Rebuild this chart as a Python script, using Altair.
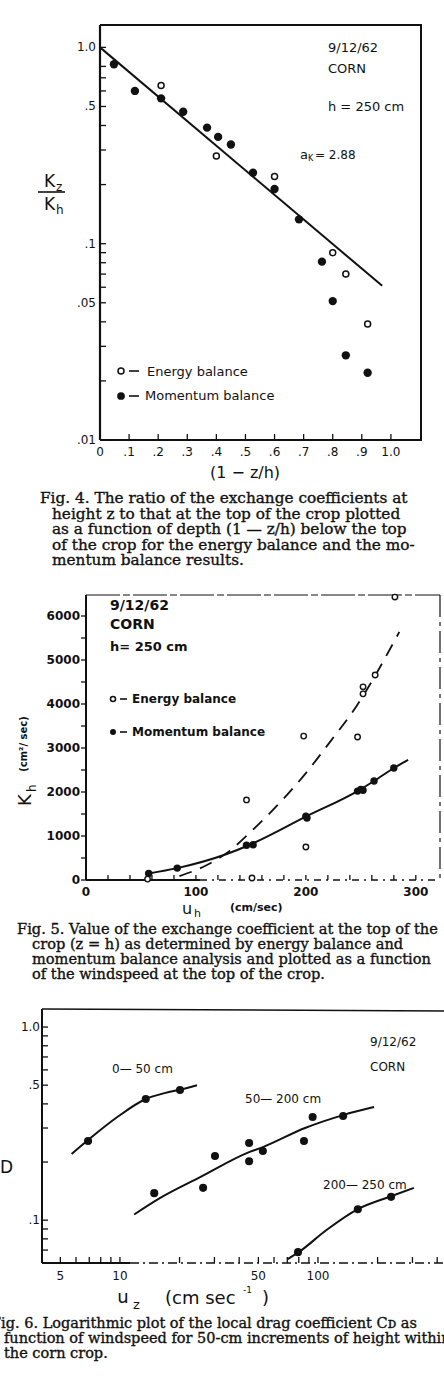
import altair as alt
import pandas as pd

INK = "#111111"
SANS = "DejaVu Sans"
SERIF = "DejaVu Serif"

# ---------------- Fig. 4: K_z / K_h against depth (1 - z/h) ----------------
f4_energy_depth = [0.21, 0.40, 0.60, 0.80, 0.845, 0.92]
f4_energy_ratio = [0.64, 0.28, 0.22, 0.090, 0.070, 0.039]
f4_momentum_depth = [0.048, 0.12, 0.21, 0.286, 0.368, 0.406, 0.45, 0.526,
                     0.60, 0.684, 0.763, 0.80, 0.845, 0.92]
f4_momentum_ratio = [0.82, 0.60, 0.55, 0.47, 0.39, 0.35, 0.32, 0.23,
                     0.19, 0.133, 0.081, 0.051, 0.027, 0.022]
f4_fit_depth = [0.0, 0.97]
f4_fit_ratio = [1.0, 0.061]
f4_y_ticks = [1.0, 0.8, 0.7, 0.6, 0.5, 0.4, 0.3, 0.2,
              0.1, 0.09, 0.08, 0.07, 0.06, 0.05, 0.04, 0.03, 0.02, 0.01]
f4_y_label_values = [1.0, 0.5, 0.1, 0.05, 0.01]
f4_y_labels = ["1.0", ".5", ".1", ".05", ".01"]
f4_x_ticks = [0.0, 0.1, 0.2, 0.3, 0.4, 0.5, 0.6, 0.7, 0.8, 0.9, 1.0]
f4_x_labels = ["0", ".1", ".2", ".3", ".4", ".5", ".6", ".7", ".8", ".9", "1.0"]

# ---------------- Fig. 5: K_h against windspeed u_h ----------------
f5_energy_speed = [56, 151, 200, 146, 198, 247, 252, 252, 263, 281]
f5_energy_kh = [20, 45, 750, 1820, 3270, 3250, 4390, 4230, 4660, 6430]
f5_momentum_speed = [57, 83, 146, 152, 200, 201, 247, 250, 252, 262, 280]
f5_momentum_kh = [150, 270, 790, 800, 1450, 1410, 2020, 2060, 2040, 2250, 2545]
f5_momentum_curve_speed = [57, 83, 128, 148, 200, 249, 262, 280, 293]
f5_momentum_curve_kh = [150, 270, 590, 790, 1440, 2050, 2250, 2545, 2730]
f5_energy_curve_speed = [85, 110, 130, 150, 200, 222, 246, 285]
f5_energy_curve_kh = [90, 340, 650, 1100, 2430, 3140, 3950, 5640]
f5_y_ticks = [0, 500, 1000, 1500, 2000, 2500, 3000, 3500, 4000, 4500, 5000, 5500, 6000]
f5_y_label_values = [0, 1000, 2000, 3000, 4000, 5000, 6000]
f5_y_labels = ["0", "1000", "2000", "3000", "4000", "5000", "6000"]
f5_x_ticks = [20, 40, 60, 80, 100, 120, 140, 160, 180, 200, 220, 240, 260, 280, 300]
f5_x_label_values = [0, 100, 200, 300]
f5_x_labels = ["0", "100", "200", "300"]

# ---------------- Fig. 6: drag coefficient against windspeed (log-log) ----------------
f6_low_speed = [6.9, 13.5, 20.1]
f6_low_cd = [0.257, 0.424, 0.472]
f6_mid_speed = [14.9, 26.3, 30.2, 44.9, 44.9, 52.7, 85, 94, 134]
f6_mid_cd = [0.138, 0.147, 0.215, 0.251, 0.202, 0.228, 0.257, 0.342, 0.346]
f6_top_speed = [79.3, 159, 234]
f6_top_cd = [0.0683, 0.114, 0.132]
f6_low_curve_speed = [5.7, 7.0, 9.7, 13.5, 17.0, 20.1, 24.5]
f6_low_curve_cd = [0.22, 0.263, 0.342, 0.424, 0.456, 0.474, 0.50]
f6_mid_curve_speed = [11.8, 15.9, 25.4, 44.9, 52.7, 86, 134, 192]
f6_mid_curve_cd = [0.107, 0.13, 0.167, 0.225, 0.239, 0.30, 0.35, 0.385]
f6_top_curve_speed = [70, 80, 110, 159, 234, 305]
f6_top_curve_cd = [0.0627, 0.0683, 0.0886, 0.114, 0.133, 0.147]
f6_y_ticks = [1.0, 0.9, 0.8, 0.7, 0.6, 0.5, 0.4, 0.3, 0.2, 0.1, 0.09, 0.08, 0.07]
f6_y_label_values = [1.0, 0.5, 0.1]
f6_y_labels = ["1.0", ".5", ".1"]
f6_x_ticks = [5, 6, 7, 8, 9, 10, 20, 30, 40, 50, 60, 70, 80, 90, 100, 200, 300, 400]
f6_x_label_values = [5, 10, 50, 100]
f6_x_labels = ["5", "10", "50", "100"]

fig4_caption = [
    "Fig. 4. The ratio of the exchange coefficients at",
    "height z to that at the top of the crop plotted",
    "as a function of depth (1 \u2014 z/h) below the top",
    "of the crop for the energy balance and the mo-",
    "mentum balance results.",
]
fig5_caption = [
    "Fig. 5. Value of the exchange coefficient at the top of the",
    "crop (z = h) as determined by energy balance and",
    "momentum balance analysis and plotted as a function",
    "of the windspeed at the top of the crop.",
]
fig6_caption = [
    "Fig. 6. Logarithmic plot of the local drag coefficient C\u1d05 as",
    "function of windspeed for 50-cm increments of height within",
    "the corn crop.",
]

ONE = pd.DataFrame({"k": [0]})


# ---------------- scales: each panel maps its data into its own pixel box ----------------
def lin(domain, rng):
    return alt.Scale(type="linear", domain=domain, range=rng, zero=False, nice=False)


def logs(domain, rng):
    return alt.Scale(type="log", domain=domain, range=rng, nice=False)


s4x = lin([0.0, 1.1], [100, 420])
s4y = logs([0.01, 1.3], [440, 25])
s5x = lin([0, 322], [86, 440])
s5y = lin([0, 6477], [880, 595])
s6x = logs([4.04, 433], [42, 444])
s6y = logs([0.06, 1.24], [1263, 1009])


def X(scale):
    return alt.X("x:Q", scale=scale, axis=None)


def Y(scale):
    return alt.Y("y:Q", scale=scale, axis=None)


def dots(xs, ys, sx, sy, filled, size, sw=1.5):
    df = pd.DataFrame({"x": xs, "y": ys})
    if filled:
        mark = alt.Chart(df).mark_point(shape="circle", filled=True, color=INK,
                                        size=size, opacity=1)
    else:
        mark = alt.Chart(df).mark_point(shape="circle", filled=True, fill="white",
                                        stroke=INK, strokeWidth=sw, size=size, opacity=1)
    return mark.encode(x=X(sx), y=Y(sy))


def curve(xs, ys, sx, sy, width=2.0, dash=None, interp="monotone"):
    df = pd.DataFrame({"x": xs, "y": ys})
    kw = dict(color=INK, strokeWidth=width, interpolate=interp)
    if dash:
        kw["strokeDash"] = dash
    return alt.Chart(df).mark_line(**kw).encode(x=X(sx), y=Y(sy))


def yticks(values, sy, x0, x1, width=1.3):
    df = pd.DataFrame({"y": values})
    return alt.Chart(df).mark_rule(color=INK, strokeWidth=width).encode(
        y=Y(sy), x=alt.value(x0), x2=alt.value(x1))


def xticks(values, sx, y0, y1, width=1.3):
    df = pd.DataFrame({"x": values})
    return alt.Chart(df).mark_rule(color=INK, strokeWidth=width).encode(
        x=X(sx), y=alt.value(y0), y2=alt.value(y1))


def ylabels(values, texts, sy, x, size=12, weight="normal"):
    df = pd.DataFrame({"y": values, "t": texts})
    return alt.Chart(df).mark_text(align="right", baseline="middle", font=SANS,
                                   fontSize=size, fontWeight=weight, color=INK).encode(
        y=Y(sy), x=alt.value(x), text="t:N")


def xlabels(values, texts, sx, y, size=12, weight="normal"):
    df = pd.DataFrame({"x": values, "t": texts})
    return alt.Chart(df).mark_text(align="center", baseline="middle", font=SANS,
                                   fontSize=size, fontWeight=weight, color=INK).encode(
        x=X(sx), y=alt.value(y), text="t:N")


def seg(x1, y1, x2, y2, width=1.8, dash=None):
    kw = dict(color=INK, strokeWidth=width)
    if dash:
        kw["strokeDash"] = dash
    return alt.Chart(ONE).mark_rule(**kw).encode(
        x=alt.value(x1), y=alt.value(y1), x2=alt.value(x2), y2=alt.value(y2))


def label(text, x, y, size=12, font=SANS, align="left", weight="normal",
          angle=0, baseline="middle", heavy=0.0):
    kw = dict(text=text, font=font, fontSize=size, align=align, baseline=baseline,
              fontWeight=weight, color=INK)
    if angle:
        kw["angle"] = angle
    if heavy:
        kw["stroke"] = INK
        kw["strokeWidth"] = heavy
    return alt.Chart(ONE).mark_text(**kw).encode(x=alt.value(x), y=alt.value(y))


def marker(x, y, filled, size):
    if filled:
        mk = alt.Chart(ONE).mark_point(shape="circle", filled=True, color=INK,
                                       size=size, opacity=1)
    else:
        mk = alt.Chart(ONE).mark_point(shape="circle", filled=True, fill="white",
                                       stroke=INK, strokeWidth=1.5, size=size, opacity=1)
    return mk.encode(x=alt.value(x), y=alt.value(y))


def caption(lines, x_first, x_rest, y0, lead, size):
    out = []
    for i, line in enumerate(lines):
        out.append(label(line, x_first if i == 0 else x_rest, y0 + i * lead,
                         size=size, font=SERIF, baseline="alphabetic", heavy=0.35))
    return out


layers = []

# ---------------- Fig. 4 ----------------
layers += [
    seg(100, 25, 422, 25, 1.8), seg(100, 440, 422, 440, 2.0),
    seg(100, 25, 100, 440, 2.2), seg(421, 25, 421, 440, 2.0),
    yticks(f4_y_ticks, s4y, 100, 106),
    xticks(f4_x_ticks, s4x, 440, 434),
    ylabels(f4_y_label_values, f4_y_labels, s4y, 96, size=12),
    xlabels(f4_x_ticks, f4_x_labels, s4x, 452, size=12),
    curve(f4_fit_depth, f4_fit_ratio, s4x, s4y, width=2.0, interp="linear"),
    dots(f4_momentum_depth, f4_momentum_ratio, s4x, s4y, True, 70),
    dots(f4_energy_depth, f4_energy_ratio, s4x, s4y, False, 36),
    label("9/12/62", 328, 48, size=13),
    label("CORN", 328, 69, size=13),
    label("h = 250 cm", 328, 107, size=13),
    label("a", 300, 155, size=13),
    label("K", 308, 159, size=8),
    label("=  2.88", 315, 155, size=12),
    marker(121, 371, False, 36), seg(129, 371, 139, 371, 1.6),
    label("Energy balance", 147, 372, size=13),
    marker(121, 396, True, 60), seg(129, 396, 139, 396, 1.6),
    label("Momentum balance", 145, 396, size=13),
    label("K", 44, 182, size=17), label("z", 56, 187, size=12),
    seg(38, 192, 65, 192, 1.6),
    label("K", 44, 205, size=17), label("h", 56, 210, size=12),
    label("(1 \u2212 z/h)", 245, 473, size=16, align="center"),
]
layers += caption(fig4_caption, 40, 52, 503, 15.6, 15.3)

# ---------------- Fig. 5 ----------------
layers += [
    seg(86, 595, 440, 595, 1.2, dash=[34, 3, 7, 3]),
    seg(440, 595, 440, 880, 1.2, dash=[22, 5, 4, 5]),
    seg(86, 595, 86, 880, 2.0),
    seg(86, 880, 200, 880, 1.8),
    seg(200, 880, 440, 880, 1.3, dash=[7, 5, 2, 5]),
    yticks(f5_y_ticks, s5y, 81, 86),
    xticks(f5_x_ticks, s5x, 880, 875),
    ylabels(f5_y_label_values, f5_y_labels, s5y, 80, size=12, weight="bold"),
    xlabels(f5_x_label_values, f5_x_labels, s5x, 892, size=12, weight="bold"),
    curve(f5_energy_curve_speed, f5_energy_curve_kh, s5x, s5y, width=1.8, dash=[13, 9]),
    curve(f5_momentum_curve_speed, f5_momentum_curve_kh, s5x, s5y, width=2.0),
    dots(f5_momentum_speed, f5_momentum_kh, s5x, s5y, True, 55),
    dots(f5_energy_speed, f5_energy_kh, s5x, s5y, False, 30, sw=1.4),
    label("9/12/62", 110, 606, size=14, weight="bold"),
    label("CORN", 110, 625, size=14, weight="bold"),
    label("h= 250 cm", 110, 647, size=13, weight="bold"),
    marker(113, 699, False, 26), seg(120, 699, 127, 699, 1.6),
    label("Energy balance", 132, 699, size=12, weight="bold"),
    marker(113, 732, True, 36), seg(120, 732, 127, 732, 1.6),
    label("Momentum balance", 132, 732, size=12, weight="bold"),
    label("K", 26, 806, size=18, angle=270),
    label("h", 32, 792, size=12, angle=270),
    label("(cm\u00b2/ sec)", 24, 744, size=10, weight="bold", angle=270, align="center"),
    label("u", 187, 909, size=16, align="center"),
    label("h", 194, 914, size=11),
    label("(cm/sec)", 230, 908, size=11, weight="bold"),
]
layers += caption(fig5_caption, 17, 32, 934, 15, 14.6)

# ---------------- Fig. 6 ----------------
layers += [
    seg(42, 1009, 444, 1011, 1.6),
    seg(42, 1009, 42, 1263, 2.0),
    seg(42, 1263, 130, 1263, 1.8),
    seg(130, 1263, 444, 1263, 1.3, dash=[9, 4, 2, 4]),
    yticks(f6_y_ticks, s6y, 42, 48),
    xticks(f6_x_ticks, s6x, 1263, 1257),
    ylabels(f6_y_label_values, f6_y_labels, s6y, 40, size=12),
    xlabels(f6_x_label_values, f6_x_labels, s6x, 1276, size=12),
    curve(f6_low_curve_speed, f6_low_curve_cd, s6x, s6y, width=2.0),
    curve(f6_mid_curve_speed, f6_mid_curve_cd, s6x, s6y, width=2.0),
    curve(f6_top_curve_speed, f6_top_curve_cd, s6x, s6y, width=2.0),
    dots(f6_low_speed, f6_low_cd, s6x, s6y, True, 65),
    dots(f6_mid_speed, f6_mid_cd, s6x, s6y, True, 65),
    dots(f6_top_speed, f6_top_cd, s6x, s6y, True, 65),
    label("0\u2014 50 cm", 112, 1069, size=12),
    label("50\u2014 200 cm", 245, 1099, size=12),
    label("200\u2014 250 cm", 323, 1185, size=12),
    label("9/12/62", 370, 1042, size=12),
    label("CORN", 370, 1067, size=12),
    label("D", 0, 1168, size=17),
    label("u", 123, 1298, size=18, align="center"),
    label("z", 133, 1305, size=13),
    label("(cm  sec", 165, 1299, size=18),
    label("-1", 243, 1290, size=9),
    label(")", 262, 1299, size=18),
]
layers += caption(fig6_caption, -9, 4, 1328, 15, 14.5)

chart = (
    alt.layer(*layers)
    .resolve_scale(x="independent", y="independent")
    .properties(width=444, height=1372, padding=0, background="white",
                autosize=alt.AutoSizeParams(type="none"))
    .configure_view(stroke="transparent")
)

chart.save("out.html", embed_options={"renderer": "svg", "actions": False})
